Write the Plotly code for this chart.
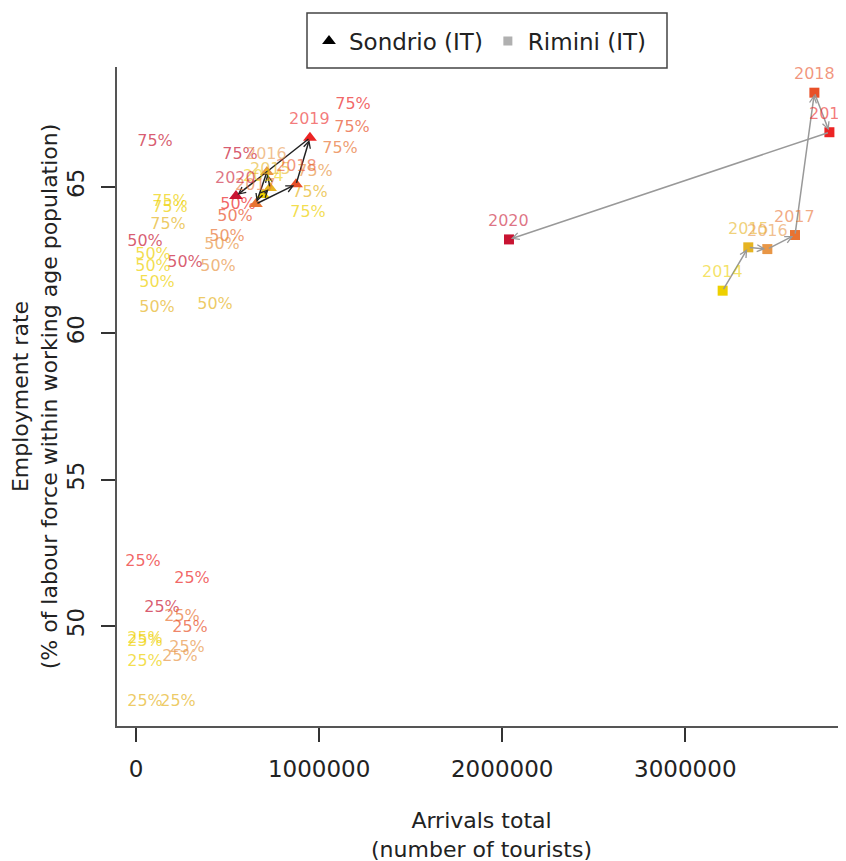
import plotly.graph_objects as go

# ---------------- data ----------------
years = [2014, 2015, 2016, 2017, 2018, 2019, 2020]

sondrio_arrivals = [694000, 732000, 715000, 655000, 874000, 950000, 546000]
sondrio_employment = [64.72, 64.96, 65.50, 64.41, 65.08, 66.67, 64.68]

rimini_arrivals = [3204000, 3344000, 3448000, 3599000, 3705000, 3787000, 2037000]
rimini_employment = [61.45, 62.93, 62.87, 63.35, 68.21, 66.86, 63.20]

# quantile labels (text, arrivals, employment, year)
q_text = ["75%"] * 11 + ["50%"] * 12 + ["25%"] * 12
q_arrivals = [103770, 1185150, 1179680, 1114150, 568000, 977600, 950300, 939380, 185690, 185690, 174770,
              557070, 540690, 497000, 469690, 447840, 431460, 267610, 49150, 92850, 92850, 114690, 114690,
              142000, 305840, 251230, 294920, 278540, 240300, 229380, 38230, 49150, 49150, 49150, 49150]
q_employment = [66.54, 67.79, 67.01, 66.28, 66.08, 65.51, 64.77, 64.09, 64.49, 64.26, 63.69,
                64.38, 63.97, 63.28, 63.01, 62.26, 60.96, 62.39, 63.11, 62.67, 62.26, 61.71, 60.86,
                50.62, 51.61, 50.31, 49.93, 49.25, 48.94, 47.41, 52.19, 49.56, 49.46, 48.78, 47.41]
q_year = [2020, 2019, 2018, 2017, 2020, 2016, 2015, 2014, 2014, 2014, 2015,
          2019, 2018, 2017, 2016, 2016, 2015, 2020, 2020, 2014, 2014, 2014, 2015,
          2020, 2019, 2017, 2018, 2016, 2016, 2015, 2019, 2014, 2014, 2014, 2015]

x_ticks = [0, 1000000, 2000000, 3000000]
x_ticktext = ["0", "1000000", "2000000", "3000000"]
y_ticks = [50, 55, 60, 65]

# ---------------- style ----------------
year_rgb = {
    2014: (238, 208, 0),
    2015: (230, 180, 34),
    2016: (232, 150, 70),
    2017: (232, 115, 50),
    2018: (232, 80, 40),
    2019: (236, 36, 36),
    2020: (200, 20, 50),
}


def col(yr, a=1.0):
    r, g, b = year_rgb[yr]
    return f"rgba({r},{g},{b},{a})"


FONT = "DejaVu Sans"

# page has an 8px body margin: figure coords = page coords - 8
L, R, T, B = 109, 8, 59, 143
W, H = 846, 861
PW, PH = W - L - R, H - T - B

fig = go.Figure()

# quantile text labels
fig.add_trace(go.Scatter(
    x=q_arrivals, y=q_employment, mode="text", text=q_text,
    textfont=dict(family=FONT, size=16, color=[col(y, 0.7) for y in q_year]),
    showlegend=False, hoverinfo="skip", cliponaxis=False,
))

# points
fig.add_trace(go.Scatter(
    x=rimini_arrivals, y=rimini_employment, mode="markers",
    marker=dict(symbol="square", size=10, color=[col(y) for y in years]),
    showlegend=False,
))
fig.add_trace(go.Scatter(
    x=sondrio_arrivals, y=sondrio_employment, mode="markers",
    marker=dict(symbol="triangle-up", size=12, color=[col(y) for y in years]),
    showlegend=False,
))

# legend-only traces
fig.add_trace(go.Scatter(x=[None], y=[None], mode="markers", name="Sondrio (IT)",
                         marker=dict(symbol="triangle-up", size=12, color="black")))
fig.add_trace(go.Scatter(x=[None], y=[None], mode="markers", name="Rimini (IT)",
                         marker=dict(symbol="square", size=9, color="#b0b0b0")))

annotations = []
# arrows between consecutive years
for xs, ys, c in [(sondrio_arrivals, sondrio_employment, "#222222"),
                  (rimini_arrivals, rimini_employment, "#999999")]:
    for i in range(len(xs) - 1):
        annotations.append(dict(
            x=xs[i + 1], y=ys[i + 1], ax=xs[i], ay=ys[i],
            xref="x", yref="y", axref="x", ayref="y",
            text="", showarrow=True, arrowhead=5, arrowsize=0.9,
            arrowwidth=1.5, arrowcolor=c, standoff=2,
        ))
# year labels
for xs, ys in [(sondrio_arrivals, sondrio_employment), (rimini_arrivals, rimini_employment)]:
    for xv, yv, yr in zip(xs, ys, years):
        annotations.append(dict(
            x=xv, y=yv, xref="x", yref="y", text=str(yr), showarrow=False,
            yshift=19, font=dict(family=FONT, size=16, color=col(yr, 0.6)),
        ))

# legend frame (figure px -> paper)
bx0, bx1, by0, by1 = 299, 659, 5, 60
shapes = [dict(
    type="rect", xref="paper", yref="paper",
    x0=(bx0 - L) / PW, x1=(bx1 - L) / PW,
    y0=1 + (T - by1) / PH, y1=1 + (T - by0) / PH,
    line=dict(color="#444444", width=1.5), fillcolor="rgba(0,0,0,0)",
)]

fig.update_layout(
    width=W, height=H,
    margin=dict(l=L, r=R, t=T, b=B, autoexpand=False),
    paper_bgcolor="white", plot_bgcolor="white",
    font=dict(family=FONT, size=22, color="#222222"),
    annotations=annotations,
    shapes=shapes,
    legend=dict(
        orientation="h", x=(301 - L) / PW, xanchor="left",
        y=1 + (T - 33) / PH, yanchor="middle",
        borderwidth=0, bgcolor="rgba(0,0,0,0)",
        font=dict(family=FONT, size=23, color="#222222"),
        itemsizing="trace",
    ),
    xaxis=dict(
        range=[-103770, 3877665], tickvals=x_ticks, ticktext=x_ticktext,
        tickfont=dict(size=23),
        showgrid=False, zeroline=False, showline=True, linecolor="#555555", linewidth=2,
        ticks="outside", ticklen=14, tickwidth=1.5, tickcolor="#333333",
        ticklabelstandoff=7, automargin=False,
        title=dict(text="Arrivals total<br>(number of tourists)", standoff=32,
                   font=dict(family=FONT, size=22)),
    ),
    yaxis=dict(
        range=[46.587, 69.087], tickvals=y_ticks, tickangle=-90,
        tickfont=dict(size=23),
        showgrid=False, zeroline=False, showline=True, linecolor="#555555", linewidth=2,
        ticks="outside", ticklen=14, tickwidth=1.5, tickcolor="#333333",
        ticklabelstandoff=8, automargin=False,
        title=dict(text="Employment rate<br>(% of labour force within working age population)",
                   standoff=2, font=dict(family=FONT, size=22)),
    ),
)

fig.write_html("out.html")
